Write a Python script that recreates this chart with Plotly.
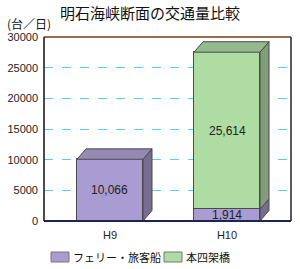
import plotly.graph_objects as go

categories = ["H9", "H10"]
ferry = [10066, 1914]
bridge = [None, 25614]
series_names = ["フェリー・旅客船", "本四架橋"]
y_ticks = [0, 5000, 10000, 15000, 20000, 25000, 30000]
y_tick_labels = ["0", "5000", "10000", "15000", "20000", "25000", "30000"]

x_pos = [0, 1]
W = 0.564
DX = 0.077
DY = 1700

front = {"ferry": "#a99cd2", "bridge": "#afdca3"}
side = {"ferry": "#786c93", "bridge": "#7f9e79"}
top = {"ferry": "#958ab3", "bridge": "#93bb8d"}
edge = "#4a4a4a"

L, R, T, B = 44, 9, 37, 48
PW, PH = 300 - L - R, 269 - T - B

def px(xp):
    return (xp - L) / PW

def py(yp):
    return (269 - B - yp) / PH

fig = go.Figure()

fig.add_trace(go.Bar(x=x_pos, y=ferry, width=W, name=series_names[0], showlegend=False,
                     marker=dict(color=front["ferry"], line=dict(color=edge, width=1))))
fig.add_trace(go.Bar(x=x_pos, y=bridge, width=W, name=series_names[1], showlegend=False,
                     marker=dict(color=front["bridge"], line=dict(color=edge, width=1))))

def poly(xs, ys, color):
    fig.add_trace(go.Scatter(x=xs + [xs[0]], y=ys + [ys[0]], fill="toself", fillcolor=color,
                             mode="lines", line=dict(color=edge, width=1),
                             showlegend=False, hoverinfo="skip"))

annotations = []
for i, xc in enumerate(x_pos):
    segs = []
    b = 0
    if ferry[i]:
        segs.append(("ferry", b, b + ferry[i], ferry[i]))
        b += ferry[i]
    if bridge[i]:
        segs.append(("bridge", b, b + bridge[i], bridge[i]))
        b += bridge[i]
    r = xc + W / 2
    l = xc - W / 2
    for key, y0, y1, v in segs:
        poly([r, r + DX, r + DX, r], [y0, y0 + DY, y1 + DY, y1], side[key])
        annotations.append(dict(x=xc, y=(y0 + y1) / 2, text=f"{v:,}", showarrow=False,
                                font=dict(size=12, color="#222", family="Liberation Sans, Arial")))
    key, y0, y1, v = segs[-1]
    poly([l, l + DX, r + DX, r], [y1, y1 + DY, y1 + DY, y1], top[key])

# custom legend
shapes = []
legend_items = [(series_names[0], front["ferry"], 51, 71), (series_names[1], front["bridge"], 164, 184)]
for name, col, sx, tx in legend_items:
    shapes.append(dict(type="rect", xref="paper", yref="paper", x0=px(sx), x1=px(sx + 18),
                       y0=py(262), y1=py(252), fillcolor=col, line=dict(color="#777", width=1)))
    annotations.append(dict(xref="paper", yref="paper", x=px(tx), y=py(257), xanchor="left",
                            yanchor="middle", text=name, showarrow=False,
                            font=dict(size=11, color="#111", family="Noto Sans CJK JP")))

annotations.append(dict(xref="paper", yref="paper", x=px(5), y=py(23), xanchor="left",
                        yanchor="middle", text="(台／日)", showarrow=False,
                        font=dict(size=12, color="#111", family="Noto Sans CJK JP")))

shapes += [
    dict(type="line", xref="paper", yref="paper", x0=0, x1=1, y0=1, y1=1, line=dict(color="#7a3a10", width=1.5)),
    dict(type="line", xref="paper", yref="paper", x0=0, x1=1, y0=0, y1=0, line=dict(color="#1a2550", width=2)),
    dict(type="line", xref="paper", yref="paper", x0=0, x1=0, y0=0, y1=1, line=dict(color="#111", width=1.5)),
    dict(type="line", xref="paper", yref="paper", x0=1, x1=1, y0=0, y1=1, line=dict(color="#222", width=1.5)),
]

fig.update_layout(
    width=300, height=269,
    margin=dict(l=L, r=R, t=T, b=B, autoexpand=False),
    paper_bgcolor="white", plot_bgcolor="white",
    barmode="stack", bargap=0,
    title=dict(text="明石海峡断面の交通量比較", x=0.5, xanchor="center", y=1 - 14 / 269, yanchor="middle",
               yref="container", font=dict(size=15, color="#111", family="Noto Sans CJK JP")),
    xaxis=dict(range=[-0.564, 1.547], tickvals=x_pos, ticktext=categories, showgrid=False,
               zeroline=False, showline=False, ticks="", ticklabelstandoff=6,
               tickfont=dict(size=11, color="#222", family="Liberation Sans, Arial")),
    yaxis=dict(range=[0, 30000], tickvals=y_ticks, ticktext=y_tick_labels, showgrid=True,
               gridcolor="#5ccbec", griddash="dash", gridwidth=1, zeroline=False, showline=False,
               ticks="", ticklabelstandoff=5,
               tickfont=dict(size=11, color="#222", family="Liberation Sans, Arial")),
    showlegend=False,
    annotations=annotations,
    shapes=shapes,
)

fig.write_html("out.html")
